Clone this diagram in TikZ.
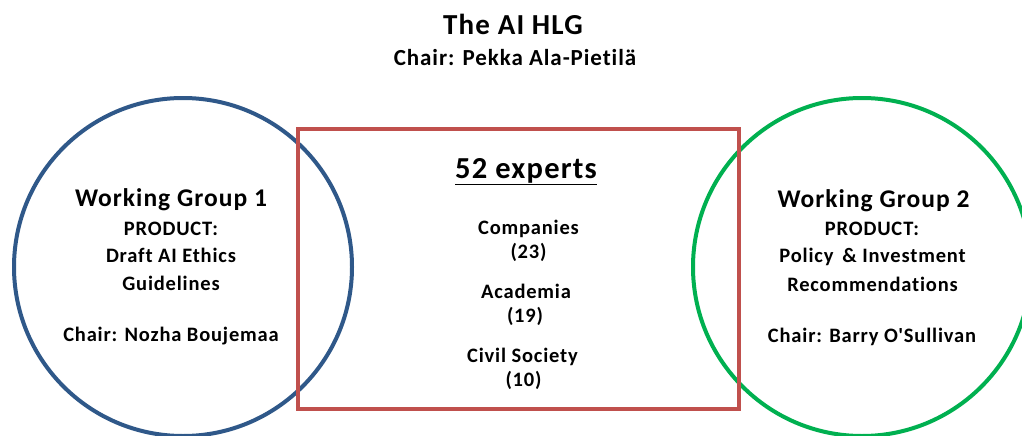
\documentclass[tikz,border=0pt]{standalone}
\usepackage{fontspec}
\newfontfamily\calfont{Carlito}[Ligatures=NoCommon, LetterSpace=4]
\definecolor{wgblue}{HTML}{2F5889}
\definecolor{boxred}{HTML}{C0504D}
\definecolor{wggreen}{HTML}{00B050}
\tikzset{
  ring/.style={draw, circle, line width=4pt, minimum size=338pt, inner sep=0pt},
  frame/.style={draw=boxred, line width=4pt},
  txt/.style={inner sep=0pt, anchor=base},
  title/.style={txt, font=\calfont\bfseries\fontsize{29}{34}\selectfont},
  head/.style={txt, font=\calfont\bfseries\fontsize{30.5}{34}\selectfont},
  sub/.style={txt, font=\calfont\bfseries\fontsize{23}{27}\selectfont},
  mid/.style={txt, font=\calfont\bfseries\fontsize{25.5}{29}\selectfont},
  small/.style={txt, font=\calfont\bfseries\fontsize{20.5}{24}\selectfont},
}
\begin{document}
\begin{tikzpicture}[x=1pt,y=-1pt]
\useasboundingbox (0,0) rectangle (1022,436);
\fill[white] (0,0) rectangle (1022,436);
% shapes
\node[ring, draw=wgblue] (wg1) at (183,267) {};
\node[ring, draw=wggreen] (wg2) at (862,267) {};
\draw[frame] (298,129) rectangle (739,409);
% title
\node[title] (title) at (513,35) {The AI HLG};
\node[sub] (chair) at (515,66) {Chair: Pekka Ala-Pietilä};
% left group
\node[mid] (w1) at (171,206) {Working Group 1};
\node[small] (p1) at (171,235) {PRODUCT:};
\node[small] (d1) at (171,262) {Draft AI Ethics};
\node[small] (g1) at (171,290) {Guidelines};
\node[small] (c1) at (171,341) {Chair: Nozha Boujemaa};
% experts
\node[head] (exp) at (526,178) {\underline{52 experts}};
\node[small] (comp) at (528.5,234) {Companies};
\node[small] (n23) at (528.5,258) {(23)};
\node[small] (acad) at (526,298) {Academia};
\node[small] (n19) at (525,322) {(19)};
\node[small] (civ) at (522.5,362) {Civil Society};
\node[small] (n10) at (523.5,386) {(10)};
% right group
\node[mid] (w2) at (873.5,207) {Working Group 2};
\node[small] (p2) at (872,235) {PRODUCT:};
\node[small] (d2) at (872.5,262) {Policy \,\& Investment};
\node[small] (g2) at (872.5,291) {Recommendations};
\node[small] (c2) at (872,342) {Chair: Barry O'Sullivan};
\end{tikzpicture}
\end{document}
